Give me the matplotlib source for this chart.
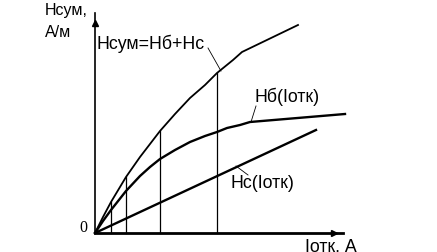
import numpy as np
import matplotlib.pyplot as plt

plt.rcParams['font.family'] = ['Liberation Sans', 'DejaVu Sans']

# curves (arbitrary units)
sum_x = [0, 8, 16, 31, 45, 65, 80, 95, 110, 122, 138, 147, 203]
sum_y = [0, 16, 31, 56, 76, 102, 119, 135, 148, 160, 173, 181, 208]

hb_x = [0, 8, 16, 31, 45, 55, 65, 80, 95, 110, 122, 132, 145, 155, 250]
hb_y = [0, 12, 23, 42, 57, 66, 74, 83, 91, 97, 101, 105, 108, 111, 119]

hc_x = [0, 221]
hc_y = [0, 103]

# currents where the verticals are drawn
marks = [16, 31, 65, 122]

fig = plt.figure(figsize=(4.37, 2.52), dpi=100)
ax = fig.add_axes([0, 0, 1, 1])
ax.set_xlim(-95, 342)
ax.set_ylim(-19, 233)
ax.axis("off")

# axes
ax.plot([0, 0], [0, 220], color="black", lw=1.2)
ax.plot([0, 248], [0, 0], color="black", lw=2)
ax.plot([0], [210], marker="^", color="black", ms=4)
ax.plot([239], [0], marker=">", color="black", ms=4)

# curves
ax.plot(sum_x, sum_y, color="black", lw=1.3)
ax.plot(hb_x, hb_y, color="black", lw=1.7)
ax.plot(hc_x, hc_y, color="black", lw=1.7)

for m in marks:
    ax.plot([m, m], [0, np.interp(m, sum_x, sum_y)], color="black", lw=0.9)

# labels
ax.text(-50, 230, "Нсум,", fontsize=11.5, va="top")
ax.text(-50, 208, "А/м", fontsize=11.5, va="top")
ax.text(2, 184, "Нсум=Нб+Нс", fontsize=12.8, va="baseline")
ax.plot([113, 126], [185, 162], color="black", lw=0.6)
ax.text(160, 131, "Нб(Іотк)", fontsize=12.8, va="baseline")
ax.plot([161, 156], [127, 111], color="black", lw=0.6)
ax.text(136, 45, "Нс(Іотк)", fontsize=12.8, va="baseline")
ax.plot([141, 153], [67, 58], color="black", lw=0.6)
ax.text(210, -5, "Іотк, А", fontsize=12.8, va="top")
ax.text(-8, 5, "0", fontsize=11.5, va="center", ha="right", family="Liberation Serif")

plt.savefig("out.png", dpi=100)
